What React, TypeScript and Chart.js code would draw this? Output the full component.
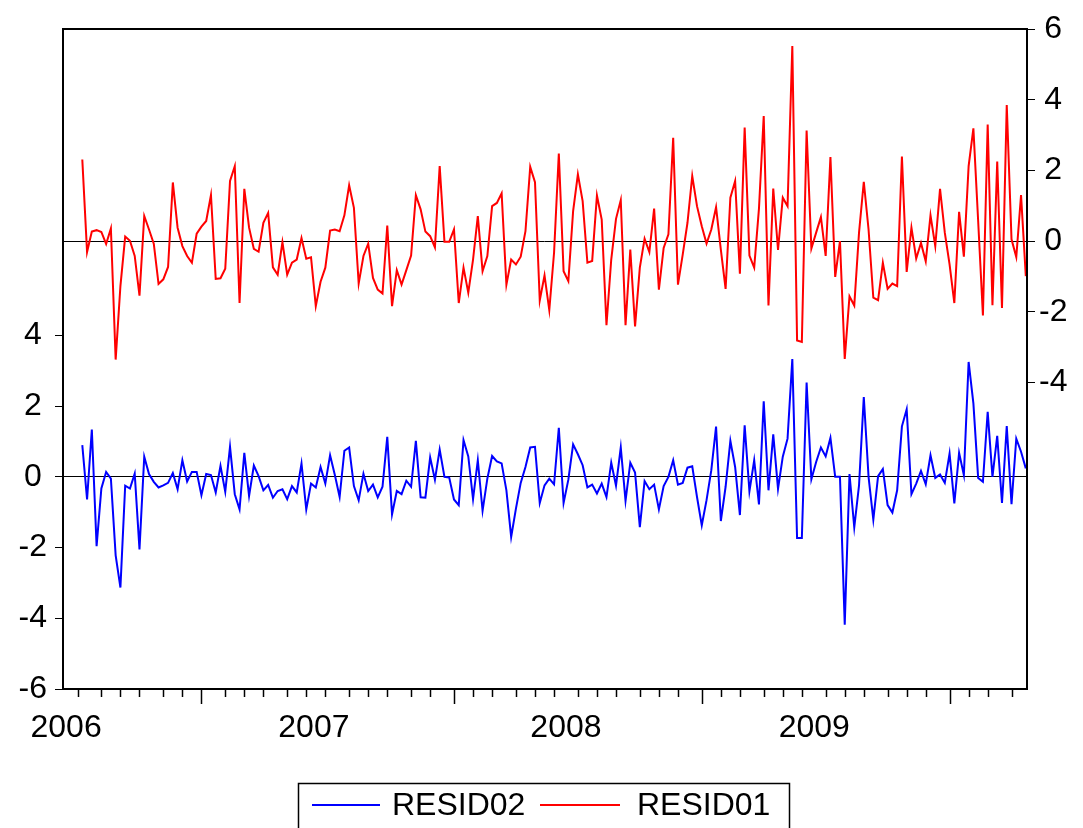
import React, { useEffect, useRef } from 'react';
import { Chart, registerables } from 'chart.js';

Chart.register(...registerables);

const FONT = '"Liberation Sans", Arial, Helvetica, sans-serif';

// Weekly observations (index 0 = first week shown)
const resid01: number[] = [
  2.31, -0.31, 0.27, 0.31, 0.26, -0.08, 0.36, -3.35, -1.27, 0.13,
  0.01, -0.42, -1.54, 0.71, 0.33, -0.07, -1.21, -1.08, -0.73, 1.66,
  0.38, -0.14, -0.42, -0.61, 0.21, 0.41, 0.57, 1.30, -1.07, -1.05,
  -0.78, 1.70, 2.12, -1.75, 1.48, 0.38, -0.22, -0.30, 0.52, 0.80,
  -0.74, -0.95, -0.03, -0.95, -0.61, -0.52, 0.09, -0.50, -0.46, -1.84,
  -1.15, -0.75, 0.30, 0.33, 0.28, 0.73, 1.58, 0.94, -1.20, -0.42,
  -0.07, -1.04, -1.37, -1.48, 0.44, -1.84, -0.82, -1.23, -0.82, -0.41,
  1.30, 0.90, 0.27, 0.14, -0.18, 2.12, -0.02, -0.02, 0.33, -1.75,
  -0.75, -1.46, -0.52, 0.71, -0.85, -0.42, 0.99, 1.08, 1.35, -1.23,
  -0.52, -0.66, -0.44, 0.28, 2.10, 1.67, -1.68, -0.97, -1.95, -0.33,
  2.48, -0.85, -1.13, 0.85, 1.89, 1.13, -0.61, -0.56, 1.29, 0.61,
  -2.38, -0.52, 0.63, 1.16, -2.38, -0.24, -2.41, -0.75, 0.07, -0.31,
  0.92, -1.37, -0.19, 0.19, 2.92, -1.23, -0.38, 0.52, 1.84, 0.99,
  0.42, -0.07, 0.33, 0.96, -0.24, -1.35, 1.23, 1.70, -0.92, 3.21,
  -0.41, -0.75, 0.92, 3.54, -1.82, 1.49, -0.25, 1.23, 0.99, 5.52,
  -2.81, -2.85, 3.13, -0.21, 0.24, 0.68, -0.42, 2.38, -1.01, 0.00,
  -3.33, -1.56, -1.82, 0.24, 1.68, 0.33, -1.60, -1.67, -0.61, -1.35,
  -1.20, -1.27, 2.39, -0.87, 0.38, -0.49, -0.05, -0.57, 0.73, -0.14,
  1.48, 0.24, -0.66, -1.75, 0.83, -0.44, 2.12, 3.19, 0.57, -2.10,
  3.30, -1.81, 2.25, -1.89, 3.85, 0.05, -0.45, 1.30, -0.99,
];

const resid02: number[] = [
  0.90, -0.64, 1.34, -1.96, -0.33, 0.14, -0.05, -2.22, -3.13, -0.25,
  -0.33, 0.09, -2.05, 0.57, 0.08, -0.14, -0.30, -0.24, -0.17, 0.11,
  -0.35, 0.47, -0.13, 0.14, 0.14, -0.52, 0.08, 0.05, -0.44, 0.31,
  -0.42, 0.85, -0.49, -0.92, 0.68, -0.54, 0.32, 0.02, -0.38, -0.23,
  -0.59, -0.40, -0.35, -0.63, -0.26, -0.44, 0.38, -0.92, -0.19, -0.30,
  0.28, -0.19, 0.61, 0.05, -0.57, 0.74, 0.83, -0.26, -0.66, 0.09,
  -0.40, -0.22, -0.58, -0.28, 1.13, -1.06, -0.40, -0.49, -0.11, -0.28,
  1.02, -0.58, -0.59, 0.55, -0.08, 0.77, 0.00, -0.02, -0.64, -0.80,
  1.04, 0.58, -0.63, 0.47, -0.96, -0.05, 0.59, 0.44, 0.38, -0.38,
  -1.70, -0.90, -0.17, 0.28, 0.83, 0.85, -0.74, -0.24, -0.05, -0.21,
  1.39, -0.74, -0.08, 0.92, 0.64, 0.33, -0.30, -0.22, -0.47, -0.19,
  -0.57, 0.40, -0.25, 0.83, -0.68, 0.40, 0.12, -1.42, -0.12, -0.35,
  -0.22, -0.92, -0.26, 0.00, 0.47, -0.22, -0.17, 0.26, 0.30, -0.57,
  -1.37, -0.66, 0.19, 1.42, -1.25, -0.28, 1.02, 0.28, -1.08, 1.46,
  -0.41, 0.47, -0.78, 2.14, -0.38, 1.20, -0.34, 0.57, 1.08, 3.33,
  -1.73, -1.73, 2.67, -0.07, 0.42, 0.83, 0.58, 1.10, 0.00, 0.00,
  -4.18, 0.08, -1.43, -0.24, 2.26, 0.00, -1.21, 0.02, 0.22, -0.80,
  -1.01, -0.38, 1.43, 1.91, -0.49, -0.19, 0.17, -0.21, 0.61, -0.03,
  0.07, -0.17, 0.66, -0.75, 0.68, 0.05, 3.25, 2.08, -0.03, -0.14,
  1.84, 0.00, 1.16, -0.74, 1.44, -0.77, 1.08, 0.71, 0.24,
];

const seriesLabels = ['RESID02', 'RESID01'];
const seriesColors = ['#0000FF', '#FF0000'];

// Axis labels / tick positions (in week-index units)
const yearLabels = ['2006', '2007', '2008', '2009'];
const yearLabelIdx = [-3.4, 48.6, 101.5, 153.6];
const yearTickIdx = [25, 78, 130, 182];
const monthTickIdx = [
  -1, 4, 8, 12, 17, 21, 25, 30, 34, 38, 43, 47, 51, 56, 60, 64, 69, 73,
  78, 82, 86, 91, 95, 99, 104, 108, 112, 117, 121, 125, 130, 134, 138,
  143, 147, 151, 156, 160, 164, 169, 173, 177, 182, 186, 190, 195,
];
const leftTicks = [-6, -4, -2, 0, 2, 4];
const rightTicks = [-4, -2, 0, 2, 4, 6];

const framePlugin = {
  id: 'framePlugin',
  afterDraw(chart: any) {
    const { ctx, chartArea } = chart;
    const { left, right, top, bottom } = chartArea;
    const x = chart.scales.x;
    ctx.save();
    ctx.strokeStyle = '#000';
    ctx.lineWidth = 2;
    ctx.strokeRect(left, top, right - left, bottom - top);

    ctx.lineWidth = 1.5;
    monthTickIdx.forEach((i) => {
      const px = Math.round(x.getPixelForValue(i)) + 0.5;
      const len = yearTickIdx.includes(i) ? 15 : 8;
      ctx.beginPath();
      ctx.moveTo(px, bottom);
      ctx.lineTo(px, bottom + len);
      ctx.stroke();
    });

    ctx.font = `32px ${FONT}`;
    ctx.fillStyle = '#000';
    ctx.textAlign = 'center';
    ctx.textBaseline = 'alphabetic';
    yearLabels.forEach((t, k) => {
      ctx.fillText(t, x.getPixelForValue(yearLabelIdx[k]), 737);
    });

    // legend
    ctx.lineWidth = 1.5;
    ctx.strokeRect(298.5, 783.5, 491, 60);
    const items = [
      { x0: 312, x1: 380, tx: 392 },
      { x0: 540, x1: 620, tx: 637 },
    ];
    ctx.textAlign = 'left';
    ctx.textBaseline = 'middle';
    chart.data.datasets.forEach((ds: any, k: number) => {
      const it = items[k];
      ctx.strokeStyle = ds.borderColor;
      ctx.lineWidth = 2;
      ctx.beginPath();
      ctx.moveTo(it.x0, 805);
      ctx.lineTo(it.x1, 805);
      ctx.stroke();
      ctx.fillStyle = '#000';
      ctx.fillText(ds.label, it.tx, 806);
    });
    ctx.restore();
  },
};

function axisGrid() {
  return {
    drawOnChartArea: true,
    color: (c: any) => (c.tick && c.tick.value === 0 ? '#000' : 'rgba(0,0,0,0)'),
    tickColor: '#000',
    tickLength: 8,
    lineWidth: 1,
  };
}

export default function App() {
  const ref = useRef<HTMLCanvasElement | null>(null);
  useEffect(() => {
    if (!ref.current) return;
    const chart = new Chart(ref.current, {
      type: 'line',
      data: {
        datasets: [
          {
            label: seriesLabels[0],
            data: resid02.map((v, i) => ({ x: i, y: v })),
            borderColor: seriesColors[0],
            borderWidth: 2,
            pointRadius: 0,
            tension: 0,
            yAxisID: 'yL',
          },
          {
            label: seriesLabels[1],
            data: resid01.map((v, i) => ({ x: i, y: v })),
            borderColor: seriesColors[1],
            borderWidth: 2,
            pointRadius: 0,
            tension: 0,
            yAxisID: 'yR',
          },
        ],
      },
      options: {
        animation: false,
        responsive: false,
        layout: { padding: { top: 29, left: 0, right: 0, bottom: 0 } },
        plugins: { legend: { display: false }, tooltip: { enabled: false } },
        scales: {
          x: {
            type: 'linear',
            min: -4.05,
            max: 198.25,
            ticks: { display: false },
            grid: { display: false },
            border: { display: false },
            afterFit: (s: any) => {
              s.height = 139;
            },
          },
          yL: {
            type: 'linear',
            position: 'left',
            min: -6,
            max: 12.667,
            afterBuildTicks: (s: any) => {
              s.ticks = leftTicks.map((v) => ({ value: v }));
            },
            afterFit: (s: any) => {
              s.width = 63;
            },
            ticks: { font: { family: FONT, size: 32 }, color: '#000', crossAlign: 'center', padding: 8 },
            grid: axisGrid(),
            border: { display: true, color: '#000', width: 2 },
          },
          yR: {
            type: 'linear',
            position: 'right',
            min: -12.667,
            max: 6,
            afterBuildTicks: (s: any) => {
              s.ticks = rightTicks.map((v) => ({ value: v }));
            },
            afterFit: (s: any) => {
              s.width = 56;
            },
            ticks: { font: { family: FONT, size: 32 }, color: '#000', crossAlign: 'center', padding: 4 },
            grid: axisGrid(),
            border: { display: true, color: '#000', width: 2 },
          },
        },
      } as any,
      plugins: [framePlugin],
    });
    return () => chart.destroy();
  }, []);

  return (
    <div style={{ position: 'absolute', left: 0, top: 0, width: 1083, height: 828, background: '#fff' }}>
      <canvas ref={ref} width={1083} height={828} style={{ display: 'block' }} />
    </div>
  );
}
